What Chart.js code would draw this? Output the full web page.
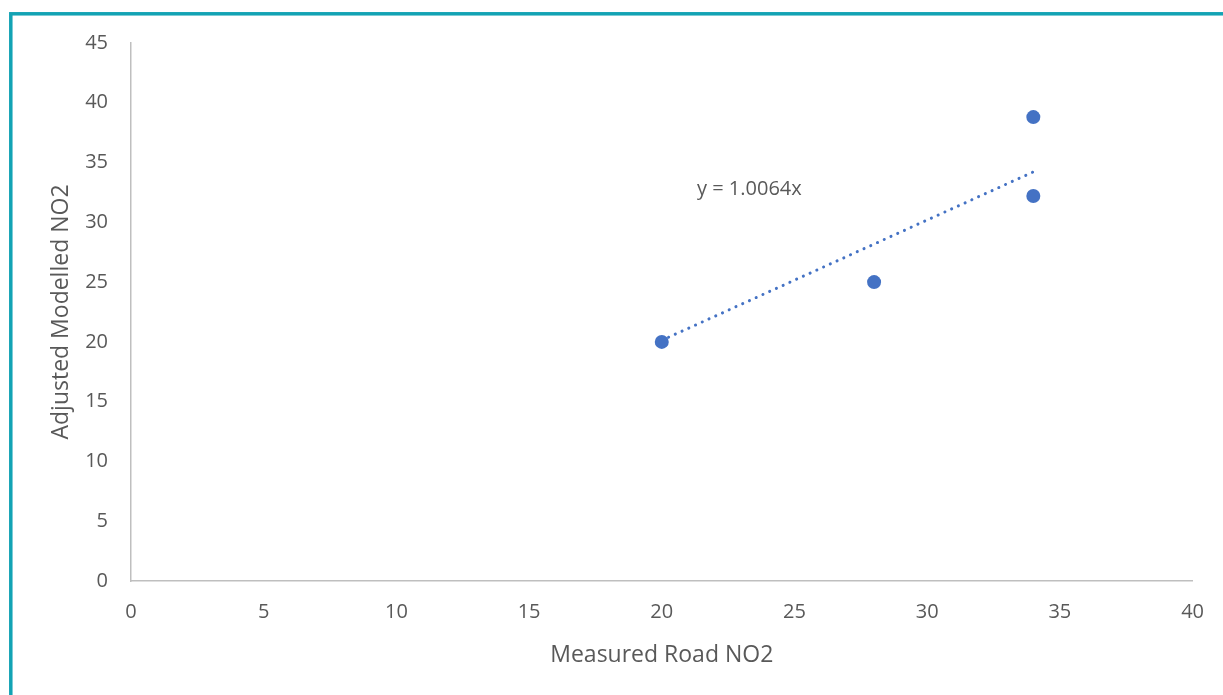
<!DOCTYPE html>
<html lang="en">
<head>
    <meta charset="UTF-8">
    <title>Adjusted Modelled NO2 vs Measured Road NO2</title>
    <style>
        html, body { margin: 0; padding: 0; background: #fff; overflow: hidden; }
        #myChart { display: block; }
    </style>
</head>
<body>
    <canvas id="myChart" width="1223" height="695"></canvas>

    <script src="https://cdn.jsdelivr.net/npm/chart.js"></script>
    <script>
        // values
        const measured = [20, 28, 34, 34]
        const modelled = [20.0, 25.0, 38.8, 32.2]
        const trendX = [20, 34]
        const trendY = [20.13, 34.22]
        const trendLabel = 'y = 1.0064x'
        const labelAt = [23.3, 32.8]
        const xTicks = [0, 5, 10, 15, 20, 25, 30, 35, 40]
        const yTicks = [0, 5, 10, 15, 20, 25, 30, 35, 40, 45]

        const blue = '#4472C4'
        const grey = '#595959'
        const fontName = "'Open Sans', sans-serif"

        // teal frame + trendline equation
        const extras = {
            id: 'extras',
            afterDraw(chart) {
                const c = chart.ctx
                c.save()
                c.strokeStyle = '#13A3B4'
                c.lineWidth = 3.5
                c.strokeRect(10.8, 13.8, 1300, 800)

                const x = chart.scales.x.getPixelForValue(labelAt[0])
                const y = chart.scales.y.getPixelForValue(labelAt[1])
                c.fillStyle = grey
                c.font = '20px ' + fontName
                c.textAlign = 'center'
                c.textBaseline = 'middle'
                c.fillText(trendLabel, x, y)
                c.restore()
            }
        }

        const ctx = document.getElementById('myChart')
        new Chart(ctx, {
            type: 'scatter',
            data: {
                datasets: [
                    {
                        label: 'points',
                        data: measured.map((v, i) => ({ x: v, y: modelled[i] })),
                        backgroundColor: blue,
                        borderColor: blue,
                        borderWidth: 0,
                        pointRadius: 7,
                        pointHoverRadius: 7
                    },
                    {
                        label: 'trend',
                        data: trendX.map((v, i) => ({ x: v, y: trendY[i] })),
                        showLine: true,
                        pointRadius: 0,
                        borderColor: blue,
                        borderWidth: 3,
                        borderCapStyle: 'round',
                        borderDash: [0.1, 7.3],
                        fill: false
                    }
                ]
            },
            options: {
                responsive: false,
                devicePixelRatio: 1,
                animation: false,
                layout: { padding: { left: 0, top: 43, right: 30, bottom: 0 } },
                plugins: { legend: { display: false }, tooltip: { enabled: false } },
                scales: {
                    x: {
                        type: 'linear',
                        min: 0,
                        max: 40,
                        afterBuildTicks: s => { s.ticks = xTicks.map(v => ({ value: v })) },
                        afterFit: s => { s.height = 114 },
                        grid: { display: false, drawTicks: false },
                        border: { display: true, color: '#BFBFBF', width: 1.5 },
                        ticks: { color: grey, padding: 19, font: { family: fontName, size: 20 } },
                        title: {
                            display: true,
                            text: 'Measured Road NO2',
                            color: grey,
                            font: { family: fontName, size: 23 },
                            padding: { top: 0, bottom: 26 }
                        }
                    },
                    y: {
                        type: 'linear',
                        min: 0,
                        max: 45,
                        afterBuildTicks: s => { s.ticks = yTicks.map(v => ({ value: v })) },
                        afterFit: s => { s.width = 131 },
                        grid: { display: false, drawTicks: false },
                        border: { display: true, color: '#BFBFBF', width: 1.5 },
                        ticks: { color: grey, padding: 23, font: { family: fontName, size: 20 } },
                        title: {
                            display: true,
                            text: 'Adjusted Modelled NO2',
                            color: grey,
                            font: { family: fontName, size: 23 },
                            padding: { top: 48, bottom: 0 }
                        }
                    }
                }
            },
            plugins: [extras]
        })
    </script>
</body>
</html>
